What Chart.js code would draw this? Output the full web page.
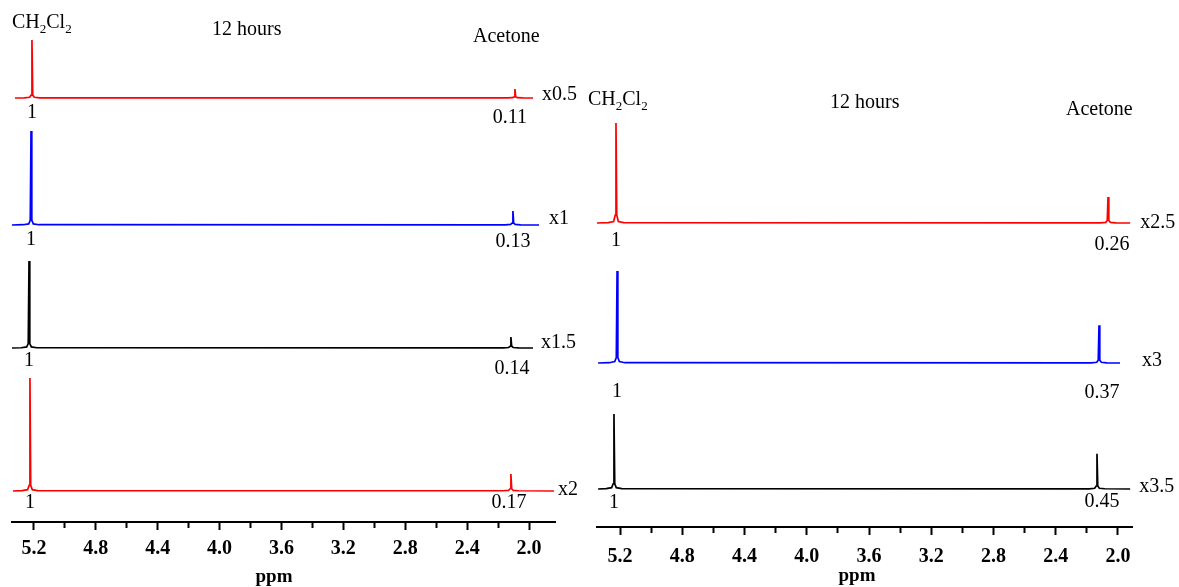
<!DOCTYPE html>
<html lang="en">
<head>
<meta charset="UTF-8">
<title>CH2Cl2 / Acetone - 12 hours</title>
<style>
    body { margin: 0; background: #fff; }
    .wrap { position: relative; width: 1179px; height: 587px; }
    #leftChart { position: absolute; left: 0; top: 0; }
    #rightChart { position: absolute; left: 585px; top: 0; }
</style>
<script src="https://cdn.jsdelivr.net/npm/chart.js"></script>
</head>
<body>
<div class="wrap">
    <canvas id="leftChart" width="585" height="587"></canvas>
    <canvas id="rightChart" width="594" height="587"></canvas>
</div>
<script>
// ---- data: chemical shift (ppm) and intensity, CH2Cl2 peak = 1 ----
// left panel, top to bottom
const leftRed1Ppm  = [5.323, 5.263, 5.228, 5.218, 5.213, 5.208, 5.198, 5.163, 2.141, 2.106, 2.096, 2.091, 2.086, 2.076, 2.041, 1.974];
const leftRed1Int  = [0, 0.003, 0.012, 0.05, 1, 0.05, 0.012, 0.003, 0.002, 0.006, 0.02, 0.155, 0.02, 0.006, 0.002, 0];
const leftBluePpm  = [5.342, 5.269, 5.234, 5.224, 5.219, 5.214, 5.204, 5.169, 2.154, 2.119, 2.109, 2.104, 2.099, 2.089, 2.054, 1.935];
const leftBlueInt  = [0, 0.003, 0.012, 0.05, 1, 0.05, 0.012, 0.003, 0.002, 0.006, 0.02, 0.149, 0.02, 0.006, 0.002, 0];
const leftBlackPpm = [5.342, 5.282, 5.247, 5.237, 5.232, 5.227, 5.217, 5.182, 2.167, 2.132, 2.122, 2.117, 2.112, 2.102, 2.067, 1.974];
const leftBlackInt = [0, 0.003, 0.012, 0.05, 1, 0.05, 0.012, 0.003, 0.002, 0.006, 0.02, 0.126, 0.02, 0.006, 0.002, 0];
const leftRed2Ppm  = [5.336, 5.276, 5.241, 5.231, 5.226, 5.221, 5.211, 5.176, 2.167, 2.132, 2.122, 2.117, 2.112, 2.102, 2.067, 1.839];
const leftRed2Int  = [0, 0.003, 0.012, 0.05, 1, 0.05, 0.012, 0.003, 0.002, 0.006, 0.02, 0.150, 0.02, 0.006, 0.002, 0];

// right panel, top to bottom
const rightRedPpm   = [5.348, 5.276, 5.241, 5.231, 5.226, 5.221, 5.211, 5.176, 2.114, 2.079, 2.069, 2.064, 2.059, 2.049, 2.014, 1.922];
const rightRedInt   = [0, 0.003, 0.015, 0.08, 1, 0.08, 0.015, 0.003, 0.002, 0.006, 0.025, 0.26, 0.025, 0.006, 0.002, 0];
const rightBluePpm  = [5.341, 5.269, 5.234, 5.224, 5.219, 5.214, 5.204, 5.169, 2.172, 2.137, 2.127, 2.122, 2.117, 2.107, 2.072, 1.987];
const rightBlueInt  = [0, 0.003, 0.015, 0.06, 1, 0.06, 0.015, 0.003, 0.002, 0.008, 0.03, 0.41, 0.03, 0.008, 0.002, 0];
const rightBlackPpm = [5.341, 5.289, 5.254, 5.244, 5.239, 5.234, 5.224, 5.189, 2.185, 2.150, 2.140, 2.135, 2.130, 2.120, 2.085, 1.922];
const rightBlackInt = [0, 0.004, 0.018, 0.07, 1, 0.07, 0.018, 0.004, 0.003, 0.01, 0.04, 0.47, 0.04, 0.01, 0.003, 0];

// integral labels and vertical scale factors
const leftIntegrals  = ['0.11', '0.13', '0.14', '0.17'];
const leftFactors    = ['x0.5', 'x1', 'x1.5', 'x2'];
const rightIntegrals = ['0.26', '0.37', '0.45'];
const rightFactors   = ['x2.5', 'x3', 'x3.5'];

// axis
const ppmTickStep = 0.2;    // minor ticks
const ppmLabelEvery = 4;    // label every 0.4 ppm
const titleText = '12 hours';
const axisTitle = 'ppm';

// ---- layout (pixels inside each canvas) ----
const serif = '"Liberation Serif", "Times New Roman", serif';

const leftLayout = {
    padLeft: 12, padRight: 30, axisY: 522, axisHeight: 65, tickPad: 7,
    ppmMin: 1.832, ppmMax: 5.342,
    baseline: [98, 225, 348, 491],
    peakTop:  [40, 131, 261, 378],
    colors: ['#ff0000', '#0000ff', '#000000', '#ff0000'],
    oneDy:   [15, 15, 13, 12],
    ratioDx: [-5, 0, 1, -2],
    ratioDy: [20, 17, 21, 12],
    factorDx: [9, 10, 8, 4],
    factorDy: [-3, -6, -5, -1],
    formulaPos: [12, 28], hoursPos: [212, 35], acetonePos: [473, 42],
    ppmPos: [274, 577]
};

const rightLayout = {
    padLeft: 12, padRight: 47, axisY: 527, axisHeight: 60, tickPad: 10,
    ppmMin: 1.910, ppmMax: 5.348,
    baseline: [223, 363, 489],
    peakTop:  [123, 271, 414],
    colors: ['#ff0000', '#0000ff', '#000000'],
    oneDy:   [18, 29, 14],
    ratioDx: [4, 3, 5],
    ratioDy: [22, 30, 13],
    factorDx: [10, 22, 9],
    factorDy: [0, -2, -2],
    formulaPos: [3, 105], hoursPos: [245, 108], acetonePos: [481, 115],
    ppmPos: [272, 576]
};

function drawFormula(ctx, x, y) {
    const parts = [['CH', false], ['2', true], ['Cl', false], ['2', true]];
    parts.forEach(([t, sub]) => {
        ctx.font = (sub ? '13px ' : '20px ') + serif;
        ctx.fillText(t, x, sub ? y + 5 : y);
        x += ctx.measureText(t).width;
    });
}

// text labels: headings, "1" under CH2Cl2, integral under acetone, scale factor after trace
function notesPlugin(L, traces, integrals, factors) {
    return {
        id: 'notes',
        afterDraw(chart) {
            const ctx = chart.ctx;
            const xs = chart.scales.x;
            ctx.save();
            ctx.fillStyle = '#000';
            ctx.textBaseline = 'alphabetic';
            ctx.textAlign = 'left';
            drawFormula(ctx, L.formulaPos[0], L.formulaPos[1]);
            ctx.font = '20px ' + serif;
            ctx.fillText(titleText, L.hoursPos[0], L.hoursPos[1]);
            ctx.fillText('Acetone', L.acetonePos[0], L.acetonePos[1]);

            ctx.textBaseline = 'middle';
            traces.forEach((t, i) => {
                const base = chart.scales['y' + i].getPixelForValue(0);
                const ch2cl2 = xs.getPixelForValue(t.ppm[4]);
                const acetone = xs.getPixelForValue(t.ppm[11]);
                const end = xs.getPixelForValue(t.ppm[t.ppm.length - 1]);
                ctx.textAlign = 'center';
                ctx.fillText('1', ch2cl2, base + L.oneDy[i]);
                ctx.fillText(integrals[i], acetone + L.ratioDx[i], base + L.ratioDy[i]);
                ctx.textAlign = 'left';
                ctx.fillText(factors[i], end + L.factorDx[i], base + L.factorDy[i]);
            });

            // axis title
            ctx.textAlign = 'center';
            ctx.font = 'bold 19px ' + serif;
            ctx.fillText(axisTitle, L.ppmPos[0], L.ppmPos[1]);
            ctx.restore();
        }
    };
}

function buildPanel(canvasId, traces, L, integrals, factors) {
    const scales = {
        x: {
            type: 'linear',
            position: 'bottom',
            reverse: true,
            min: L.ppmMin,
            max: L.ppmMax,
            afterFit: (s) => { s.height = L.axisHeight; },
            ticks: {
                stepSize: ppmTickStep,
                includeBounds: false,
                autoSkip: false,
                maxRotation: 0,
                padding: L.tickPad,
                color: '#000',
                font: { family: serif, size: 20, weight: 'bold' },
                callback: (v) => (Math.round(v * 10) % ppmLabelEvery === 0 ? v.toFixed(1) : '')
            },
            grid: {
                drawOnChartArea: false,
                drawTicks: true,
                tickLength: 8,
                tickColor: '#000',
                tickWidth: 2,
                // minor ticks drawn shorter
                tickBorderDash: (c) => (Math.round(c.tick.value * 10) % ppmLabelEvery === 0 ? [] : [5, 20])
            },
            border: { color: '#000', width: 2 },
            title: { display: false }
        }
    };

    traces.forEach((t, i) => {
        const unit = L.baseline[i] - L.peakTop[i];
        scales['y' + i] = {
            type: 'linear',
            display: false,
            min: -(L.axisY - L.baseline[i]) / unit,
            max: L.baseline[i] / unit
        };
    });

    const datasets = traces.map((t, i) => ({
        data: t.ppm.map((p, k) => ({ x: p, y: t.int[k] })),
        borderColor: L.colors[i],
        borderWidth: 1.7,
        pointRadius: 0,
        showLine: true,
        fill: false,
        tension: 0,
        xAxisID: 'x',
        yAxisID: 'y' + i
    }));

    new Chart(document.getElementById(canvasId), {
        type: 'scatter',
        data: { datasets: datasets },
        options: {
            responsive: false,
            animation: false,
            events: [],
            layout: { padding: { left: L.padLeft, right: L.padRight, top: 0, bottom: 0 } },
            plugins: { legend: { display: false }, tooltip: { enabled: false } },
            scales: scales
        },
        plugins: [notesPlugin(L, traces, integrals, factors)]
    });
}

buildPanel('leftChart', [
    { ppm: leftRed1Ppm, int: leftRed1Int },
    { ppm: leftBluePpm, int: leftBlueInt },
    { ppm: leftBlackPpm, int: leftBlackInt },
    { ppm: leftRed2Ppm, int: leftRed2Int }
], leftLayout, leftIntegrals, leftFactors);

buildPanel('rightChart', [
    { ppm: rightRedPpm, int: rightRedInt },
    { ppm: rightBluePpm, int: rightBlueInt },
    { ppm: rightBlackPpm, int: rightBlackInt }
], rightLayout, rightIntegrals, rightFactors);
</script>
</body>
</html>
